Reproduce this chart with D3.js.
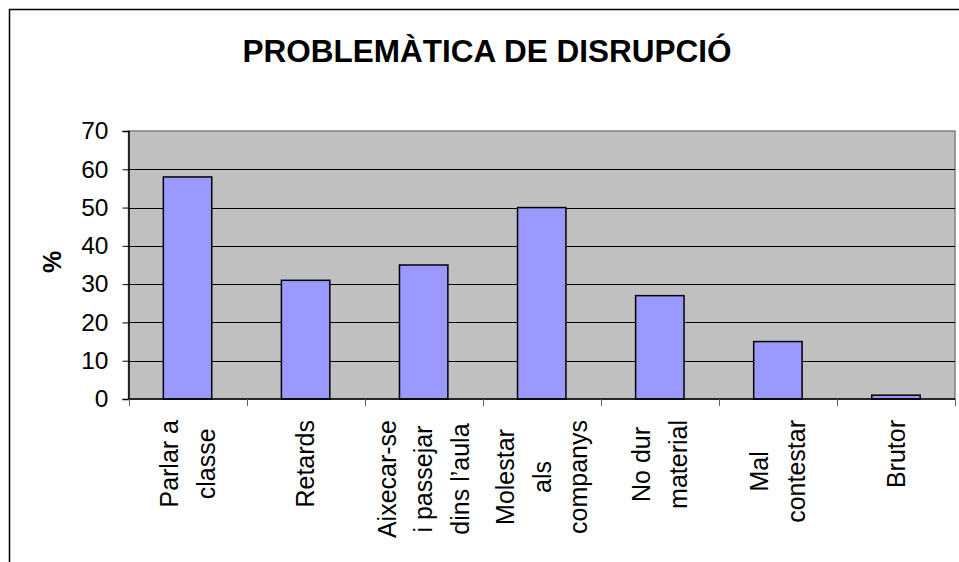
<!DOCTYPE html>
<html>
<head>
<meta charset="utf-8">
<script src="https://cdn.jsdelivr.net/npm/d3@7"></script>
<style>
  html, body { margin: 0; padding: 0; background: #ffffff; overflow: hidden; }
  svg { display: block; font-family: "Liberation Sans", Arial, sans-serif; }
</style>
</head>
<body>
<div id="chart"></div>
<script>
// chart values
const titleText = 'PROBLEMÀTICA DE DISRUPCIÓ';
const yLabel = '%';
const categories = [
  'Parlar a\nclasse',
  'Retards',
  'Aixecar-se\ni passejar\ndins l\u2019aula',
  'Molestar\nals\ncompanys',
  'No dur\nmaterial',
  'Mal\ncontestar',
  'Brutor',
];
const values = [58, 31, 35, 50, 27, 15, 1];
const yTicks = [0, 10, 20, 30, 40, 50, 60, 70];

(($d3) => {
  const options = {
    width: 959,
    height: 562,
    plot: { left: 128.5, right: 955, top: 131, bottom: 399 },
    barFill: '#9999ff',
    plotFill: '#c0c0c0',
  };

  const svg = $d3
    .select('#chart')
    .append('svg')
    .attr('width', options.width)
    .attr('height', options.height);

  // outer chart border (runs off the right and bottom edges)
  svg
    .append('rect')
    .attr('x', 9.5)
    .attr('y', 9.5)
    .attr('width', 1000)
    .attr('height', 600)
    .attr('fill', '#ffffff')
    .attr('stroke', '#000000')
    .attr('stroke-width', 1.5);

  svg
    .append('text')
    .attr('x', 487)
    .attr('y', 62)
    .attr('text-anchor', 'middle')
    .attr('font-size', 31.5)
    .attr('font-weight', 'bold')
    .text(titleText);

  const p = options.plot;
  const xScale = $d3
    .scaleBand()
    .domain(categories)
    .range([p.left, p.right])
    .padding(0);
  const yScale = $d3.scaleLinear().domain([0, 70]).range([p.bottom, p.top]);

  // plot area
  svg
    .append('rect')
    .attr('x', p.left)
    .attr('y', p.top)
    .attr('width', p.right - p.left)
    .attr('height', p.bottom - p.top)
    .attr('fill', options.plotFill)
    .attr('stroke', '#808080')
    .attr('stroke-width', 1.5);

  // gridlines
  svg
    .append('g')
    .selectAll('line')
    .data(yTicks.filter((d) => d > 0 && d < 70))
    .enter()
    .append('line')
    .attr('x1', p.left)
    .attr('x2', p.right)
    .attr('y1', (d) => Math.round(yScale(d)) + 0.5)
    .attr('y2', (d) => Math.round(yScale(d)) + 0.5)
    .attr('stroke', '#000000')
    .attr('stroke-width', 1);

  // bars
  const barW = xScale.bandwidth() * 0.41;
  svg
    .append('g')
    .selectAll('rect')
    .data(values)
    .enter()
    .append('rect')
    .attr('x', (d, i) => xScale(categories[i]) + (xScale.bandwidth() - barW) / 2)
    .attr('y', (d) => yScale(d))
    .attr('width', barW)
    .attr('height', (d) => yScale(0) - yScale(d))
    .attr('fill', options.barFill)
    .attr('stroke', '#000000')
    .attr('stroke-width', 1.5);

  // y axis
  const yAxis = svg
    .append('g')
    .attr('transform', 'translate(' + p.left + ',0)')
    .call(
      $d3.axisLeft(yScale).tickValues(yTicks).tickSize(6).tickPadding(14)
    );
  yAxis.select('.domain').attr('stroke', '#000000').attr('stroke-width', 1.5);
  yAxis.selectAll('.tick line').attr('stroke', '#000000');
  yAxis
    .selectAll('.tick text')
    .attr('font-size', 24.5)
    .attr('font-family', '"Liberation Sans", Arial, sans-serif')
    .attr('fill', '#000000');

  // x axis: ticks on the band boundaries
  const bounds = categories.map((c) => xScale(c)).concat([p.right]);
  svg
    .append('line')
    .attr('x1', p.left)
    .attr('x2', p.right)
    .attr('y1', p.bottom)
    .attr('y2', p.bottom)
    .attr('stroke', '#000000')
    .attr('stroke-width', 1.5);
  svg
    .append('g')
    .selectAll('line')
    .data(bounds)
    .enter()
    .append('line')
    .attr('x1', (d) => Math.round(d) + 0.5)
    .attr('x2', (d) => Math.round(d) + 0.5)
    .attr('y1', p.bottom)
    .attr('y2', p.bottom + 7)
    .attr('stroke', '#606060')
    .attr('stroke-width', 1);

  // category labels: rotated block, top at y=420, lines centred in the block
  const lineGap = 36.5;
  const labelTop = 420;
  const labels = svg
    .append('g')
    .selectAll('g')
    .data(categories)
    .enter()
    .append('g');
  labels
    .selectAll('text')
    .data((d) => d.split('\n'))
    .enter()
    .append('text')
    .attr('x', 0)
    .attr('y', (d, i) => i * lineGap)
    .attr('dy', '0.35em')
    .attr('text-anchor', 'middle')
    .attr('font-size', 25)
    .text((d) => d);
  labels.attr('transform', function (d) {
    const n = d.split('\n').length;
    let maxLen = 0;
    $d3.select(this)
      .selectAll('text')
      .each(function () {
        maxLen = Math.max(maxLen, this.getComputedTextLength());
      });
    const cx = xScale(d) + xScale.bandwidth() / 2;
    const x0 = cx - ((n - 1) * lineGap) / 2;
    return (
      'translate(' + x0 + ',' + (labelTop + maxLen / 2) + ') rotate(-90)'
    );
  });

  svg
    .append('text')
    .attr('transform', 'translate(52,262) rotate(-90)')
    .attr('text-anchor', 'middle')
    .attr('dy', '0.35em')
    .attr('font-size', 25)
    .attr('font-weight', 'bold')
    .text(yLabel);
})(d3);
</script>
</body>
</html>
